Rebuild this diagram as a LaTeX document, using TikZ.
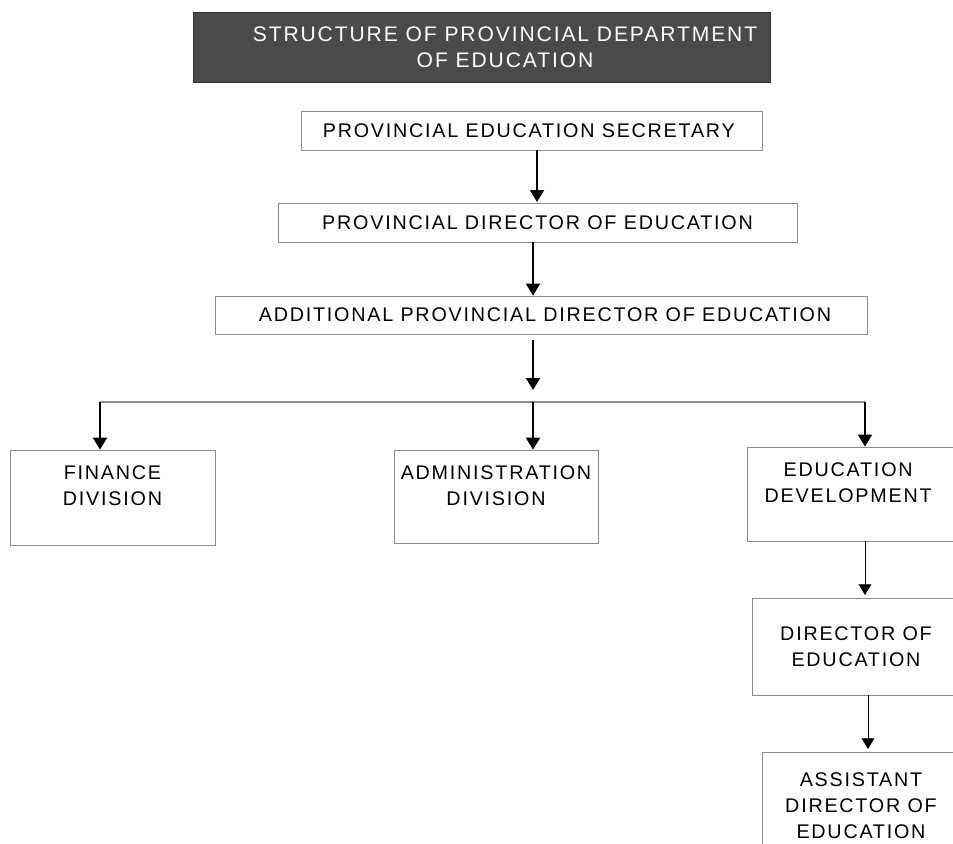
\documentclass[tikz,border=0pt]{standalone}
\usepackage{fontspec}
\setmainfont{Liberation Sans}
\newfontfamily\chartfont[LetterSpace=9]{Liberation Sans}
\usetikzlibrary{arrows.meta,fit}
\definecolor{titlegray}{HTML}{4A4A4A}
\definecolor{edgegray}{HTML}{8C8C8C}
\begin{document}
\begin{tikzpicture}[x=0.75pt,y=-0.75pt,
  box/.style={draw=edgegray, line width=0.6pt, inner sep=0pt, rectangle},
  lbl/.style={inner sep=0pt, align=center, font=\chartfont\fontsize{14.8pt}{19.2pt}\selectfont},
  titlelbl/.style={inner sep=0pt, align=center, text=white, font=\chartfont\fontsize{15.8pt}{19.5pt}\selectfont},
  mainarrow/.style={draw=black, line width=1.5pt, -{Triangle[width=10.5pt,length=9pt]}},
  subarrow/.style={draw=black, line width=0.7pt, -{Triangle[width=9.5pt,length=8pt]}},
  busline/.style={draw=edgegray, line width=0.8pt}]
\useasboundingbox (0,0) rectangle (953,843);
\clip (0,0) rectangle (953,843);

% title banner
\node[box, fill=titlegray, draw=titlegray!70!black, fit={(193,12) (770,82)}] (title) {};
\node[titlelbl] (titletext) at (505,47) {STRUCTURE OF PROVINCIAL DEPARTMENT\\OF EDUCATION};

% chain of command
\node[box, fit={(301,111) (762,150)}] (sec) {};
\node[lbl] at ([xshift=-2]sec.center) {PROVINCIAL EDUCATION SECRETARY};
\node[box, fit={(278,203) (797,242)}] (dir) {};
\node[lbl] at (dir.center) {PROVINCIAL DIRECTOR OF EDUCATION};
\node[box, fit={(215,296) (867,334)}] (add) {};
\node[lbl] at ([xshift=3]add.center) {ADDITIONAL PROVINCIAL DIRECTOR OF EDUCATION};

% divisions
\node[box, fit={(10,450) (215,545)}] (fin) {};
\node[lbl, anchor=north] at ([yshift=-12]fin.north) {FINANCE\\DIVISION};
\node[box, fit={(394,450) (598,543)}] (adm) {};
\node[lbl, anchor=north] at ([yshift=-12]adm.north) {ADMINISTRATION\\DIVISION};
\node[box, fit={(747,447) (960,541)}] (dev) {};
\node[lbl, anchor=north] at ([xshift=-4, yshift=-12]dev.north) {EDUCATION\\DEVELOPMENT};

% education development branch
\node[box, fit={(752,598) (960,695)}] (doe) {};
\node[lbl, anchor=north] at ([yshift=-22]doe.north) {DIRECTOR OF\\EDUCATION};
\node[box, fit={(762,752) (960,860)}] (ado) {};
\node[lbl, anchor=north] at ([yshift=-16]ado.north) {ASSISTANT\\DIRECTOR OF\\EDUCATION};

% connectors
\coordinate (split) at (533,390);
\coordinate (busL) at (100,402);
\coordinate (busM) at (533,402);
\coordinate (busR) at (865,402);
\draw[mainarrow] (537,150) -- (537,202);
\draw[mainarrow] (dir.south -| 533,0) -- (add.north -| 533,0);
\draw[mainarrow] (add.south -| 533,0) ++(0,6) -- (split);
\draw[busline] (busL) -- (busR);
\draw[mainarrow] (busL) -- (fin.north -| busL);
\draw[mainarrow] (busM) -- (adm.north -| busM);
\draw[mainarrow] (busR) -- (dev.north -| busR);
\draw[subarrow] (dev.south -| 865,0) -- ([yshift=2]doe.north -| 865,0);
\draw[subarrow] (doe.south -| 868,0) -- ([yshift=2]ado.north -| 868,0);
\end{tikzpicture}
\end{document}
